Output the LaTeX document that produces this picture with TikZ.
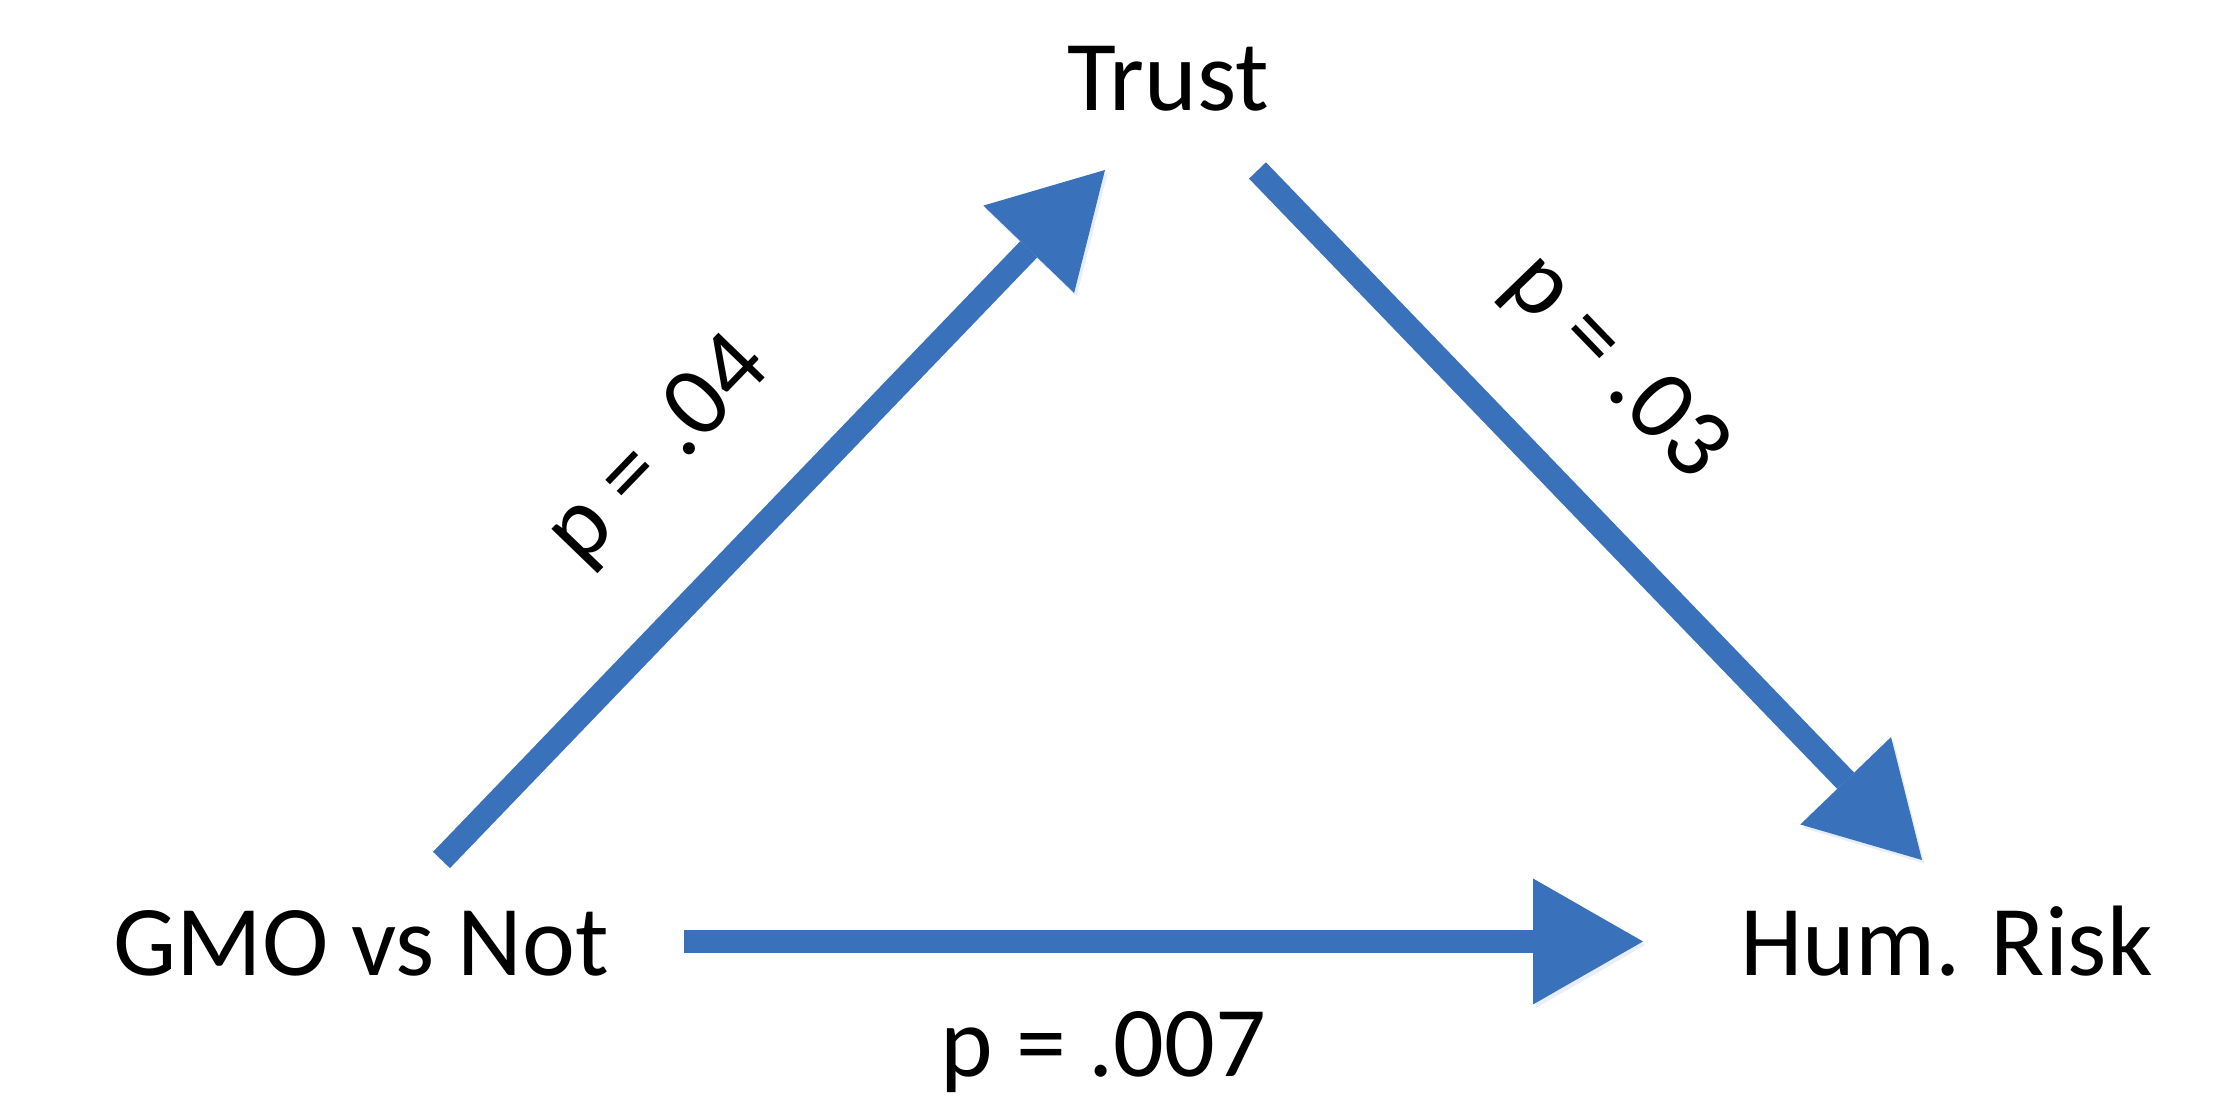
\documentclass[tikz,border=0pt]{standalone}
\usepackage{fontspec}
\setmainfont{Carlito}
\usetikzlibrary{arrows.meta}
\definecolor{arrowblue}{RGB}{57,114,187}
\tikzset{
  label/.style={inner sep=0pt, font=\fontsize{28.5}{34}\selectfont, text=black, anchor=base},
  bigarrow/.style={draw=arrowblue, line width=0.235cm, line cap=butt,
    -{Triangle[length=1.1cm, width=1.26cm, line width=0pt, fill=arrowblue]},
    preaction={draw=black, opacity=0.12, transform canvas={shift={(0.025cm,-0.035cm)}}}}
}
\begin{document}
\begin{tikzpicture}
\useasboundingbox (0,0) rectangle (22.31,11.01);
% text nodes
\node[label] (trust) at (11.68,9.90) {Trust};
\node[label] (gmo) at (3.61,1.25) {GMO vs Not};
\node[label] (hum) at (19.465,1.25) {Hum. Risk};
\node[label] (p007) at (11.035,0.24) {p = .007};
\node[label, rotate=46] (p04) at (6.77,6.32) {p = .04};
\node[label, rotate=-46] (p03) at (15.97,7.16) {p = .03};
% arrow end points
\coordinate (a1s) at (4.415,2.41);
\coordinate (a1e) at (11.05,9.31);
\coordinate (a2s) at (12.575,9.305);
\coordinate (a2e) at (19.22,2.41);
\coordinate (a3s) at (6.84,1.595);
\coordinate (a3e) at (16.43,1.595);
% arrows
\draw[bigarrow] (a1s) -- (a1e);
\draw[bigarrow] (a2s) -- (a2e);
\draw[bigarrow] (a3s) -- (a3e);
\end{tikzpicture}
\end{document}
